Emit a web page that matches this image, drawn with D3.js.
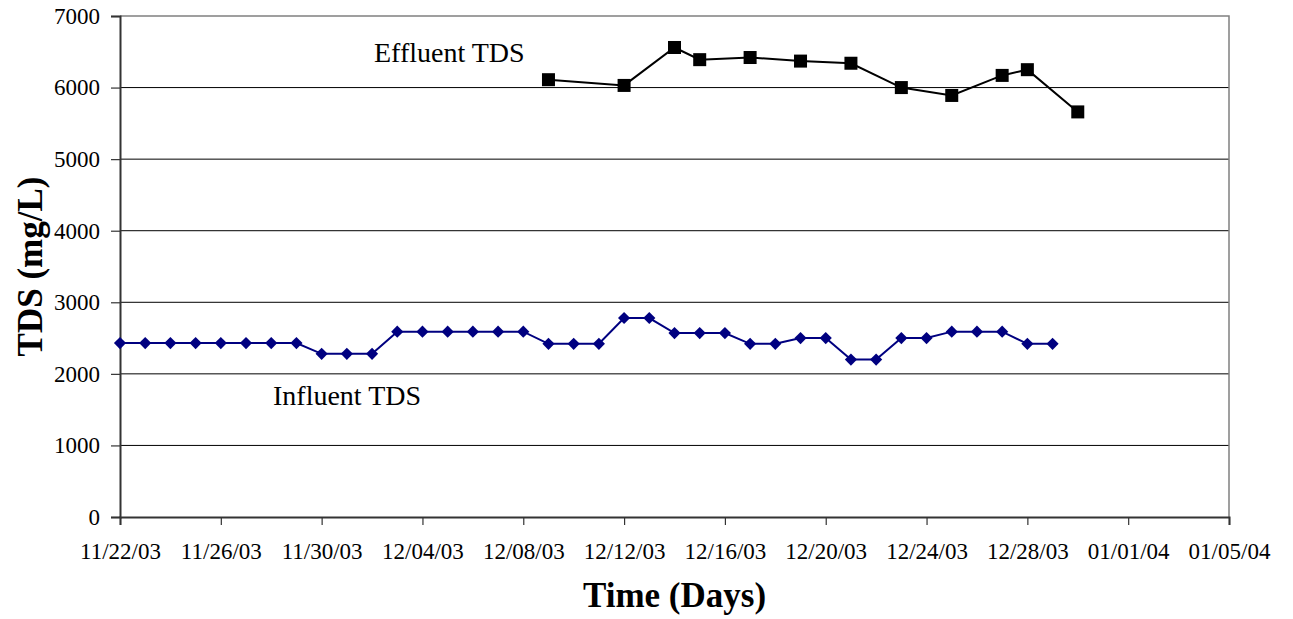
<!DOCTYPE html>
<html>
<head>
<meta charset="utf-8">
<script src="https://cdn.jsdelivr.net/npm/d3@7"></script>
<style>
  body { margin: 0; background: #fff; }
  svg text { font-family: "Liberation Serif", "Times New Roman", serif; }
</style>
</head>
<body>
<svg id="chart" width="1293" height="619"></svg>
<script>
// influent samples, one per day
const influentDates = [
  "11/22/03", "11/23/03", "11/24/03", "11/25/03", "11/26/03", "11/27/03", "11/28/03", "11/29/03",
  "11/30/03", "12/01/03", "12/02/03", "12/03/03", "12/04/03", "12/05/03", "12/06/03", "12/07/03",
  "12/08/03", "12/09/03", "12/10/03", "12/11/03", "12/12/03", "12/13/03", "12/14/03", "12/15/03",
  "12/16/03", "12/17/03", "12/18/03", "12/19/03", "12/20/03", "12/21/03", "12/22/03", "12/23/03",
  "12/24/03", "12/25/03", "12/26/03", "12/27/03", "12/28/03", "12/29/03"
];
const influentTDS = [
  2430, 2430, 2430, 2430, 2430, 2430, 2430, 2430,
  2280, 2280, 2280, 2590, 2590, 2590, 2590, 2590,
  2590, 2420, 2420, 2420, 2780, 2780, 2570, 2570,
  2570, 2420, 2420, 2500, 2500, 2200, 2200, 2500,
  2500, 2590, 2590, 2590, 2420, 2420
];

const effluentDates = [
  "12/09/03", "12/12/03", "12/14/03", "12/15/03", "12/17/03", "12/19/03",
  "12/21/03", "12/23/03", "12/25/03", "12/27/03", "12/28/03", "12/30/03"
];
const effluentTDS = [6110, 6030, 6560, 6390, 6420, 6370, 6340, 6000, 5890, 6170, 6250, 5660];

const yTicks = [0, 1000, 2000, 3000, 4000, 5000, 6000, 7000];
const xStart = "11/22/03", xEnd = "01/05/04";

const parse = d3.timeParse("%m/%d/%y");
const fmt = d3.timeFormat("%m/%d/%y");

const svg = d3.select("#chart");
const plotL = 120, plotR = 1229, plotT = 16, plotB = 517;

const x = d3.scaleTime()
    .domain([parse(xStart), parse(xEnd)])
    .range([plotL, plotR]);
const y = d3.scaleLinear()
    .domain([0, 7000])
    .range([plotB, plotT]);

// gridlines
svg.append("g")
    .selectAll("line")
    .data(yTicks.filter(v => v > 0 && v < 7000)).enter()
    .append("line")
    .attr("x1", plotL).attr("x2", plotR)
    .attr("y1", d => y(d)).attr("y2", d => y(d))
    .attr("stroke", "#000").attr("stroke-width", 1);

// plot border top / right
svg.append("path")
    .attr("d", `M${plotL},${plotT}H${plotR}V${plotB}`)
    .attr("fill", "none").attr("stroke", "#808080").attr("stroke-width", 1.5);

// y axis
const yAxis = svg.append("g")
    .attr("transform", `translate(${plotL},0)`)
    .call(d3.axisLeft(y).tickValues(yTicks).tickSize(9).tickPadding(11).tickFormat(d3.format("d")));
yAxis.select(".domain").attr("stroke", "#333").attr("stroke-width", 2);
yAxis.selectAll(".tick line").attr("stroke", "#333").attr("stroke-width", 1.2);
yAxis.selectAll("text").attr("font-size", 23).attr("fill", "#000")
    .attr("font-family", "Liberation Serif");

// x axis
const xTicks = d3.timeDay.range(parse(xStart), d3.timeDay.offset(parse(xEnd), 1), 4);
const xAxis = svg.append("g")
    .attr("transform", `translate(0,${plotB})`)
    .call(d3.axisBottom(x).tickValues(xTicks).tickSize(8).tickPadding(18).tickFormat(fmt));
xAxis.select(".domain").attr("stroke", "#333").attr("stroke-width", 2);
xAxis.selectAll(".tick line").attr("stroke", "#333").attr("stroke-width", 1.2);
xAxis.selectAll("text").attr("font-size", 23).attr("fill", "#000")
    .attr("font-family", "Liberation Serif");

// series
const infl = influentDates.map((d, i) => ({ date: parse(d), value: influentTDS[i] }));
const effl = effluentDates.map((d, i) => ({ date: parse(d), value: effluentTDS[i] }));
const line = d3.line().x(d => x(d.date)).y(d => y(d.value));

svg.append("path")
    .datum(infl)
    .attr("d", line)
    .attr("fill", "none").attr("stroke", "#000080").attr("stroke-width", 2);

svg.append("g")
    .selectAll("path")
    .data(infl).enter()
    .append("path")
    .attr("d", d3.symbol(d3.symbolSquare, 74))
    .attr("transform", d => `translate(${x(d.date)},${y(d.value)}) rotate(45)`)
    .attr("fill", "#000080");

svg.append("path")
    .datum(effl)
    .attr("d", line)
    .attr("fill", "none").attr("stroke", "#000").attr("stroke-width", 2);

svg.append("g")
    .selectAll("rect")
    .data(effl).enter()
    .append("rect")
    .attr("x", d => x(d.date) - 6.5)
    .attr("y", d => y(d.value) - 6.5)
    .attr("width", 13).attr("height", 13)
    .attr("fill", "#000");

// labels
svg.append("text")
    .attr("x", 374).attr("y", 62)
    .attr("font-size", 28)
    .text("Effluent TDS");

svg.append("text")
    .attr("x", 273).attr("y", 405)
    .attr("font-size", 28)
    .text("Influent TDS");

svg.append("text")
    .attr("x", (plotL + plotR) / 2).attr("y", 607)
    .attr("text-anchor", "middle")
    .attr("font-size", 35).attr("font-weight", "bold")
    .text("Time (Days)");

svg.append("text")
    .attr("transform", `translate(42,${(plotT + plotB) / 2}) rotate(-90)`)
    .attr("text-anchor", "middle")
    .attr("font-size", 35).attr("font-weight", "bold")
    .text("TDS (mg/L)");
</script>
</body>
</html>
